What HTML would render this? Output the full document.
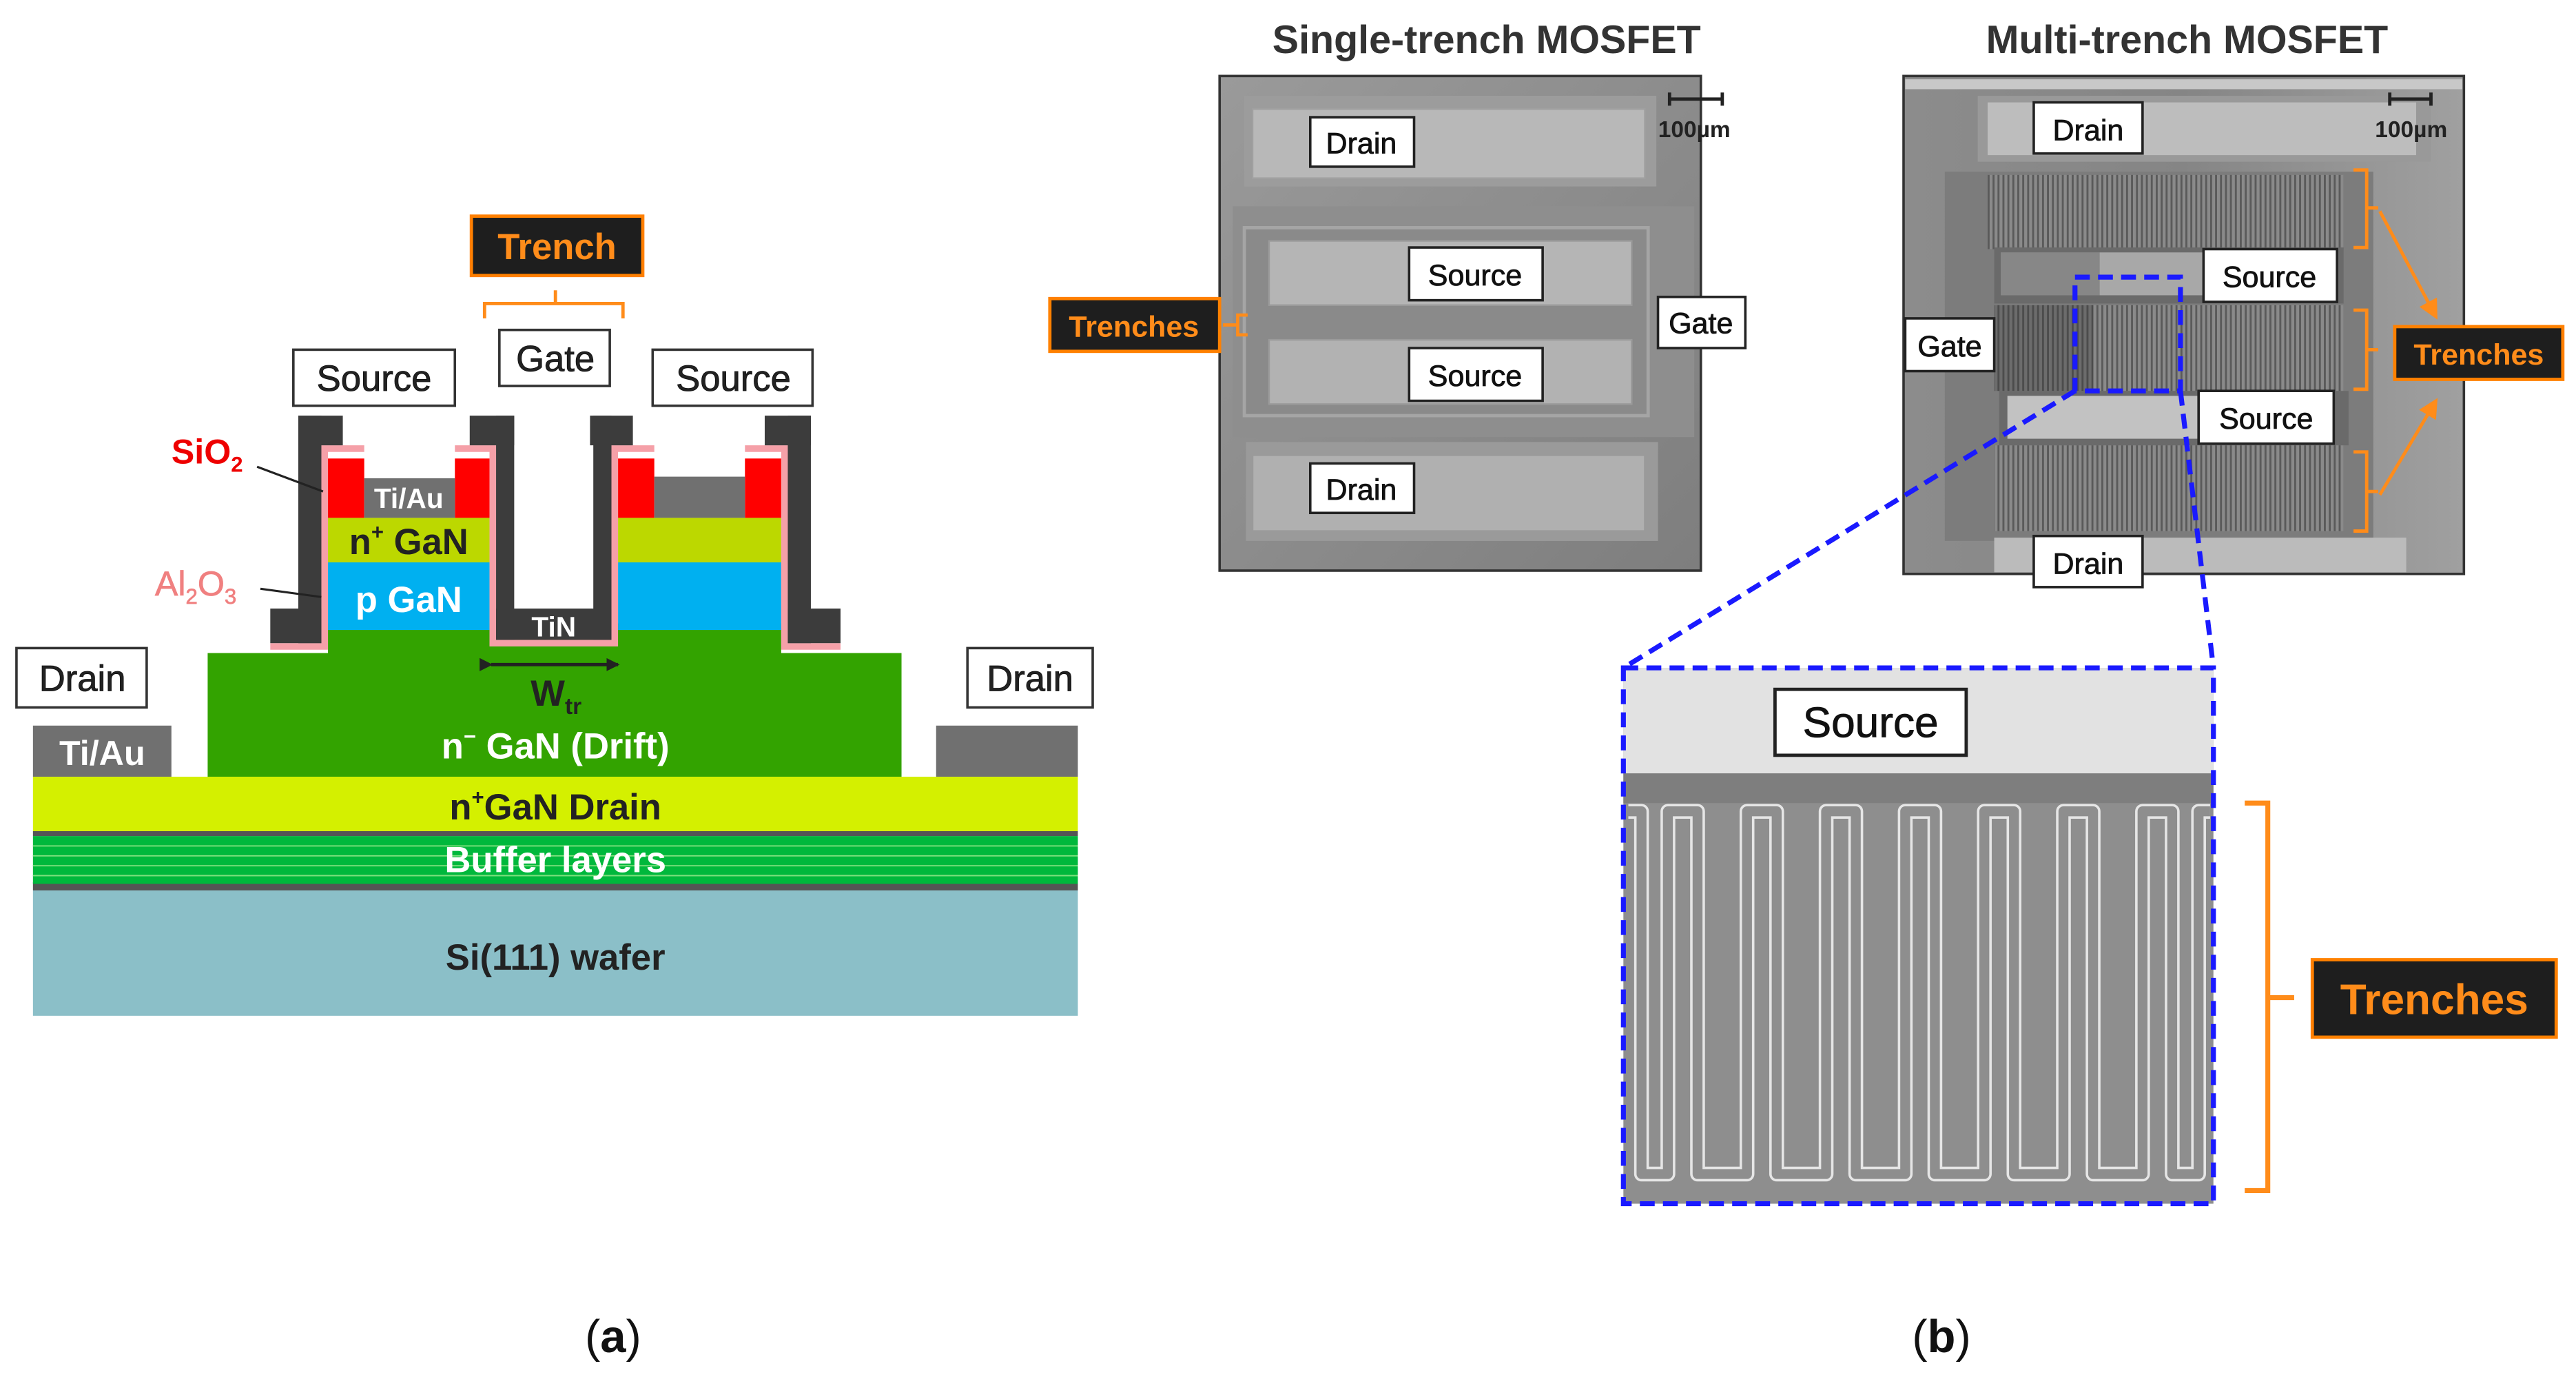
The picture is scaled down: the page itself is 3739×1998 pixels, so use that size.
<!DOCTYPE html>
<html><head><meta charset="utf-8"><style>
html,body{margin:0;padding:0;background:#fff}
svg{display:block}
text{font-family:"Liberation Sans",Arial,sans-serif}
.lb{stroke:#111;stroke-width:0.35}
</style></head><body>
<svg width="3739" height="1998" viewBox="0 0 1563 835" xmlns="http://www.w3.org/2000/svg">
<defs>
<pattern id="vl" width="3" height="10" patternUnits="userSpaceOnUse"><rect width="3" height="10" fill="#8a8a8a"/><rect width="1.2" height="10" fill="#5a5a5a"/></pattern>
<linearGradient id="sem1" x1="0" y1="0" x2="1" y2="1"><stop offset="0" stop-color="#9a9a9a"/><stop offset="1" stop-color="#7e7e7e"/></linearGradient>
<linearGradient id="sem2" x1="0" y1="0" x2="1" y2="0"><stop offset="0" stop-color="#8c8c8c"/><stop offset="0.5" stop-color="#858585"/><stop offset="1" stop-color="#a0a0a0"/></linearGradient>
<marker id="ah" markerWidth="8" markerHeight="8" refX="7" refY="4" orient="auto" markerUnits="userSpaceOnUse"><path d="M0,0 L8,4 L0,8 z" fill="#222"/></marker>
<marker id="ao" markerWidth="12" markerHeight="12" refX="10" refY="6" orient="auto" markerUnits="userSpaceOnUse"><path d="M0,0 L12,6 L0,12 z" fill="#ff8c1a"/></marker>
</defs>

<!-- ===== LEFT PANEL ===== -->
<rect x="20" y="540" width="634" height="76" fill="#8bbfc8"/>
<rect x="20" y="535" width="634" height="5" fill="#555"/>
<rect x="20" y="507" width="634" height="29" fill="#00b83c"/>
<g stroke="#7ee07e" stroke-width="0.8"><line x1="20" y1="513" x2="654" y2="513"/><line x1="20" y1="519" x2="654" y2="519"/><line x1="20" y1="525" x2="654" y2="525"/><line x1="20" y1="531" x2="654" y2="531"/></g>
<rect x="20" y="504" width="634" height="3" fill="#555"/>
<rect x="20" y="471" width="634" height="33" fill="#d4f000"/>
<rect x="126" y="396" width="421" height="75" fill="#33a300"/>
<rect x="199" y="378" width="275" height="20" fill="#33a300"/>
<rect x="20" y="440" width="84" height="31" fill="#707070"/>
<rect x="568" y="440" width="86" height="31" fill="#707070"/>
<text x="62" y="464" font-size="21" font-weight="bold" fill="#fff" text-anchor="middle">Ti/Au</text>

<rect x="199" y="341" width="98" height="41" fill="#00b0f0"/>
<rect x="199" y="314" width="98" height="27" fill="#bcd800"/>
<rect x="199" y="278" width="22" height="36" fill="#ff0000"/>
<rect x="276" y="278" width="21" height="36" fill="#ff0000"/>
<rect x="221" y="290" width="55" height="24" fill="#707070"/>
<text x="248" y="308" font-size="17" font-weight="bold" fill="#fff" text-anchor="middle">Ti/Au</text>
<text x="248" y="336" font-size="22" font-weight="bold" fill="#222" text-anchor="middle">n<tspan font-size="13" dy="-9">+</tspan><tspan dy="9"> GaN</tspan></text>
<text x="248" y="371" font-size="22" font-weight="bold" fill="#fff" text-anchor="middle">p GaN</text>
<rect x="375" y="341" width="99" height="41" fill="#00b0f0"/>
<rect x="375" y="314" width="99" height="27" fill="#bcd800"/>
<rect x="375" y="278" width="22" height="36" fill="#ff0000"/>
<rect x="452" y="278" width="22" height="36" fill="#ff0000"/>
<rect x="397" y="289" width="55" height="25" fill="#707070"/>

<path d="M164,392 L197,392 L197,272 L221,272" fill="none" stroke="#f5a0a8" stroke-width="4"/>
<path d="M276,272 L299,272 L299,390 L373,390 L373,272 L397,272" fill="none" stroke="#f5a0a8" stroke-width="4"/>
<path d="M452,272 L476,272 L476,392 L510,392" fill="none" stroke="#f5a0a8" stroke-width="4"/>
<rect x="181" y="252" width="27" height="18" fill="#3c3c3c"/>
<rect x="181" y="252" width="14" height="138" fill="#3c3c3c"/>
<rect x="164" y="369" width="31" height="21" fill="#3c3c3c"/>
<rect x="285" y="252" width="27" height="18" fill="#3c3c3c"/>
<rect x="301" y="252" width="11" height="136" fill="#3c3c3c"/>
<rect x="301" y="369" width="70" height="19" fill="#3c3c3c"/>
<rect x="360" y="252" width="11" height="136" fill="#3c3c3c"/>
<rect x="358" y="252" width="26" height="18" fill="#3c3c3c"/>
<text x="336" y="386" font-size="17" font-weight="bold" fill="#fff" text-anchor="middle">TiN</text>
<rect x="464" y="252" width="28" height="18" fill="#3c3c3c"/>
<rect x="478" y="252" width="14" height="138" fill="#3c3c3c"/>
<rect x="478" y="369" width="32" height="21" fill="#3c3c3c"/>

<line x1="298" y1="403" x2="375" y2="403" stroke="#222" stroke-width="2" marker-end="url(#ah)" marker-start="url(#ah)"/>
<text x="322" y="428" font-size="22" font-weight="bold" fill="#222">W<tspan font-size="14" dy="5">tr</tspan></text>
<text x="337" y="460" font-size="22" font-weight="bold" fill="#fff" text-anchor="middle">n<tspan font-size="13" dy="-9">−</tspan><tspan dy="9"> GaN (Drift)</tspan></text>
<text x="337" y="497" font-size="22" font-weight="bold" fill="#222" text-anchor="middle">n<tspan font-size="13" dy="-9">+</tspan><tspan dy="9">GaN  Drain</tspan></text>
<text x="337" y="529" font-size="22" font-weight="bold" fill="#fff" text-anchor="middle">Buffer layers</text>
<text x="337" y="588" font-size="22" font-weight="bold" fill="#222" text-anchor="middle">Si(111) wafer</text>

<text x="104" y="281" font-size="21" font-weight="bold" fill="#ee0000">SiO<tspan font-size="13" dy="5">2</tspan></text>
<line x1="156" y1="283" x2="196" y2="298" stroke="#222" stroke-width="1.3"/>
<text x="94" y="361" font-size="21" fill="#f08080" stroke="#f08080" stroke-width="0.3">Al<tspan font-size="13" dy="5">2</tspan><tspan dy="-5">O</tspan><tspan font-size="13" dy="5">3</tspan></text>
<line x1="158" y1="357" x2="195" y2="362" stroke="#222" stroke-width="1.3"/>

<rect x="286" y="131" width="104" height="36" fill="#1e1e1e" stroke="#ff8000" stroke-width="2"/>
<text x="338" y="157" font-size="22" font-weight="bold" fill="#ff8c1a" text-anchor="middle">Trench</text>
<path d="M294,193 L294,184 L378,184 L378,193 M337,184 L337,176" fill="none" stroke="#ff8c1a" stroke-width="2"/>

<g fill="#fff" stroke="#333" stroke-width="1.5">
<rect x="303" y="200" width="67" height="34"/>
<rect x="178" y="212" width="98" height="34"/>
<rect x="396" y="212" width="97" height="34"/>
<rect x="10" y="393" width="79" height="36"/>
<rect x="587" y="393" width="76" height="36"/>
</g>
<g font-size="22" fill="#222" text-anchor="middle" class="lb">
<text x="337" y="225">Gate</text>
<text x="227" y="237">Source</text>
<text x="445" y="237">Source</text>
<text x="50" y="419">Drain</text>
<text x="625" y="419">Drain</text>
</g>

<!-- ===== RIGHT PANEL ===== -->
<text x="902" y="32" font-size="24" font-weight="bold" fill="#333" text-anchor="middle">Single-trench  MOSFET</text>
<text x="1327" y="32" font-size="24" font-weight="bold" fill="#333" text-anchor="middle">Multi-trench  MOSFET</text>

<rect x="740" y="46" width="292" height="300" fill="url(#sem1)" stroke="#333" stroke-width="1.5"/>
<rect x="748" y="125" width="280" height="140" fill="#8e8e8e"/>
<rect x="755" y="58" width="250" height="55" fill="#9c9c9c"/>
<rect x="760" y="66" width="238" height="42" fill="#b8b8b8" stroke="#a0a0a0"/>
<rect x="755" y="138" width="245" height="114" fill="#8a8a8a" stroke="#a5a5a5" stroke-width="2"/>
<rect x="770" y="146" width="220" height="39" fill="#b5b5b5" stroke="#9a9a9a"/>
<rect x="770" y="206" width="220" height="39" fill="#b2b2b2" stroke="#9a9a9a"/>
<rect x="756" y="268" width="250" height="60" fill="#9a9a9a"/>
<rect x="760" y="276" width="238" height="46" fill="#b0b0b0" stroke="#9a9a9a"/>
<path d="M1013,56 L1013,64 M1013,60 L1045,60 M1045,56 L1045,64" stroke="#222" stroke-width="2" fill="none"/>
<text x="1028" y="83" font-size="14" font-weight="bold" fill="#222" text-anchor="middle">100µm</text>

<rect x="637" y="181" width="103" height="32" fill="#1e1e1e" stroke="#ff8000" stroke-width="2"/>
<text x="688" y="204" font-size="18" font-weight="bold" fill="#ff8c1a" text-anchor="middle">Trenches</text>
<path d="M757,191 L751,191 L751,203 L757,203 M751,197 L742,197" fill="none" stroke="#ff8c1a" stroke-width="2"/>

<g fill="#fff" stroke="#222" stroke-width="1.5">
<rect x="795" y="71" width="63" height="30"/>
<rect x="855" y="150" width="81" height="32"/>
<rect x="855" y="211" width="81" height="32"/>
<rect x="1006" y="180" width="53" height="31"/>
<rect x="795" y="281" width="63" height="30"/>
</g>
<g font-size="18" fill="#111" text-anchor="middle" class="lb">
<text x="826" y="93">Drain</text>
<text x="895" y="173">Source</text>
<text x="895" y="234">Source</text>
<text x="1032" y="202">Gate</text>
<text x="826" y="303">Drain</text>
</g>

<rect x="1155" y="46" width="340" height="302" fill="url(#sem2)" stroke="#333" stroke-width="1.5"/>
<rect x="1156" y="48" width="338" height="6" fill="#c8c8c8"/>
<rect x="1200" y="58" width="275" height="40" fill="#999"/>
<rect x="1206" y="62" width="260" height="32" fill="#bdbdbd"/>
<rect x="1180" y="104" width="260" height="224" fill="#7c7c7c"/>
<rect x="1206" y="106" width="216" height="45" fill="url(#vl)"/>
<rect x="1210" y="185" width="212" height="52" fill="url(#vl)"/>
<rect x="1210" y="270" width="212" height="52" fill="url(#vl)"/>
<rect x="1210" y="185" width="60" height="52" fill="#333" opacity="0.35"/>
<rect x="1210" y="150" width="212" height="34" fill="#6a6a6a"/>
<rect x="1214" y="153" width="165" height="26" fill="#a8a8a8"/>
<rect x="1214" y="153" width="60" height="26" fill="#666" opacity="0.5"/>
<rect x="1213" y="237" width="212" height="33" fill="#6a6a6a"/>
<rect x="1218" y="240" width="165" height="26" fill="#c2c2c2"/>
<rect x="1210" y="326" width="250" height="21" fill="#bbb"/>
<path d="M1450,56 L1450,64 M1450,60 L1475,60 M1475,56 L1475,64" stroke="#222" stroke-width="2" fill="none"/>
<text x="1463" y="83" font-size="14" font-weight="bold" fill="#222" text-anchor="middle">100µm</text>

<g fill="none" stroke="#ff8c1a" stroke-width="2">
<path d="M1428,103 L1436,103 L1436,150 L1428,150 M1436,126 L1443,126"/>
<path d="M1428,188 L1436,188 L1436,236 L1428,236 M1436,212 L1443,212"/>
<path d="M1428,274 L1436,274 L1436,322 L1428,322 M1436,298 L1443,298"/>
<line x1="1444" y1="128" x2="1478" y2="192" marker-end="url(#ao)"/>
<line x1="1444" y1="300" x2="1478" y2="243" marker-end="url(#ao)"/>
</g>
<rect x="1453" y="198" width="102" height="32" fill="#1e1e1e" stroke="#ff8000" stroke-width="2"/>
<text x="1504" y="221" font-size="18" font-weight="bold" fill="#ff8c1a" text-anchor="middle">Trenches</text>

<g fill="#fff" stroke="#222" stroke-width="1.5">
<rect x="1234" y="62" width="66" height="31"/>
<rect x="1337" y="151" width="81" height="32"/>
<rect x="1156" y="193" width="54" height="32"/>
<rect x="1334" y="237" width="82" height="32"/>
<rect x="1234" y="325" width="66" height="31"/>
</g>
<g font-size="18" fill="#111" text-anchor="middle" class="lb">
<text x="1267" y="85">Drain</text>
<text x="1377" y="174">Source</text>
<text x="1183" y="216">Gate</text>
<text x="1375" y="260">Source</text>
<text x="1267" y="348">Drain</text>
</g>

<!-- zoom inset -->
<rect x="985" y="405" width="358" height="325" fill="#8e8e8e"/>
<rect x="985" y="405" width="358" height="64" fill="#e2e2e2"/>
<rect x="985" y="469" width="358" height="18" fill="#7e7e7e"/>
<path id="mean" d="M988,492 L996,492 L996,712 L1012,712 L1012,492 L1030,492 L1030,712 L1060,712 L1060,492 L1078,492 L1078,712 L1108,712 L1108,492 L1126,492 L1126,712 L1156,712 L1156,492 L1174,492 L1174,712 L1204,712 L1204,492 L1222,492 L1222,712 L1252,712 L1252,492 L1270,492 L1270,712 L1300,712 L1300,492 L1318,492 L1318,712 L1334,712 L1334,492 L1341,492" fill="none" stroke="#e6e6e6" stroke-width="9" stroke-linejoin="round"/>
<path d="M988,492 L996,492 L996,712 L1012,712 L1012,492 L1030,492 L1030,712 L1060,712 L1060,492 L1078,492 L1078,712 L1108,712 L1108,492 L1126,492 L1126,712 L1156,712 L1156,492 L1174,492 L1174,712 L1204,712 L1204,492 L1222,492 L1222,712 L1252,712 L1252,492 L1270,492 L1270,712 L1300,712 L1300,492 L1318,492 L1318,712 L1334,712 L1334,492 L1341,492" fill="none" stroke="#8e8e8e" stroke-width="6" stroke-linejoin="round"/>

<rect x="1077" y="418" width="116" height="40" fill="#fff" stroke="#222" stroke-width="2"/>
<text x="1135" y="447" font-size="26" fill="#111" text-anchor="middle" class="lb">Source</text>

<g fill="none" stroke="#1a1aff" stroke-width="3" stroke-dasharray="9,5">
<rect x="1259" y="168" width="64" height="69"/>
<line x1="1259" y1="237" x2="985" y2="405"/>
<line x1="1323" y1="237" x2="1343" y2="405"/>
<rect x="985" y="405" width="358" height="325"/>
</g>

<path d="M1362,487 L1376,487 L1376,722 L1362,722 M1376,605 L1392,605" fill="none" stroke="#ff8c1a" stroke-width="3"/>
<rect x="1403" y="582" width="148" height="47" fill="#1e1e1e" stroke="#ff8000" stroke-width="2"/>
<text x="1477" y="615" font-size="26" font-weight="bold" fill="#ff8c1a" text-anchor="middle">Trenches</text>

<text x="372" y="820" font-size="28" fill="#111" text-anchor="middle" font-family="Liberation Serif, serif">(<tspan font-weight="bold">a</tspan>)</text>
<text x="1178" y="820" font-size="28" fill="#111" text-anchor="middle" font-family="Liberation Serif, serif">(<tspan font-weight="bold">b</tspan>)</text>
</svg>
</body></html>
